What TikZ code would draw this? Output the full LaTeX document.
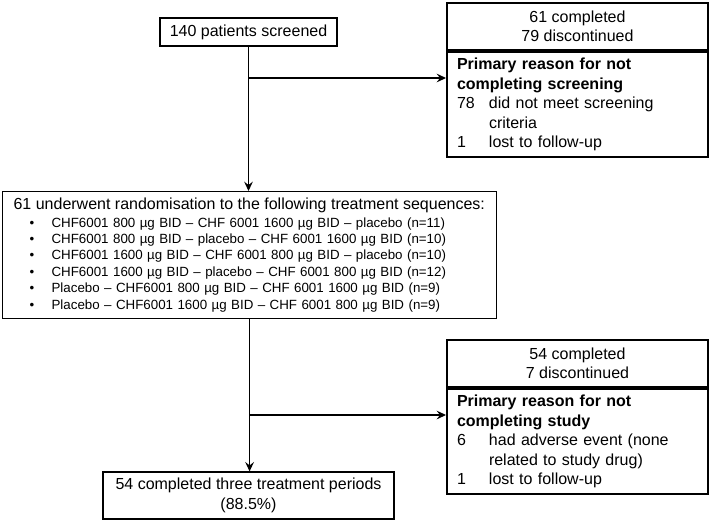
\documentclass[tikz,border=0pt]{standalone}
\usepackage{fontspec}
\setmainfont{Liberation Sans}
\usetikzlibrary{arrows.meta}
\usetikzlibrary{positioning}
\tikzset{box/.style = {draw, line width=0.9pt, align=center, inner sep=0,
                       font=\fontsize{12}{15}\selectfont}}
\tikzset{countbox/.style = {draw, line width=1.5pt, align=center, inner sep=0,
                            minimum width=195.75pt, minimum height=35.25pt,
                            font=\fontsize{12}{14.4}\selectfont}}
\tikzset{reasonbox/.style = {draw, line width=1.5pt, align=left, inner xsep=7.5pt,
                             inner ysep=0, text width=180.75pt, minimum height=79pt,
                             font=\fontsize{12}{14.6}\selectfont}}
\tikzset{flow/.style = {line width=0.9pt,
                        -{Stealth[length=7pt, width=6.5pt, inset=2.5pt]}}}
\newcommand{\reason}[2]{\makebox[24pt][l]{#1}#2}
\newcommand{\seqline}[1]{\hspace*{12pt}\makebox[16.5pt][l]{\textbullet}#1}

\begin{document}
\begin{tikzpicture}[x=0.75pt, y=-0.75pt]
    \useasboundingbox (0, 0) rectangle (709, 522);

    \node [box, minimum width=132.75pt, minimum height=21pt] (screened) at (248.5, 32)
        {140 patients screened};

    \node [countbox, anchor=north west] (scrcount) at (446, 2)
        {61 completed\\79 discontinued};
    \node [reasonbox, anchor=north west] (scrreason) at (scrcount.south west)
        {\textbf{Primary reason for not}\\
         \textbf{completing screening}\\
         \reason{78}{did not meet screening}\\
         \hspace*{24pt}criteria\\
         \reason{1}{lost to follow-up}};

    \node [box, align=left, anchor=north west, inner xsep=8.25pt, inner ysep=0,
           text width=354pt, minimum height=95.25pt,
           font=\fontsize{10}{12.3}\selectfont] (rand) at (2, 191)
        {\mbox{\fontsize{12}{12.3}\selectfont 61 underwent randomisation to the following treatment sequences:}\\[0.6pt]
         \seqline{CHF6001 800 µg BID -- CHF 6001 1600 µg BID -- placebo (n=11)}\\
         \seqline{CHF6001 800 µg BID -- placebo -- CHF 6001 1600 µg BID (n=10)}\\
         \seqline{CHF6001 1600 µg BID -- CHF 6001 800 µg BID -- placebo (n=10)}\\
         \seqline{CHF6001 1600 µg BID -- placebo -- CHF 6001 800 µg BID (n=12)}\\
         \seqline{Placebo -- CHF6001 800 µg BID -- CHF 6001 1600 µg BID (n=9)}\\
         \seqline{Placebo -- CHF6001 1600 µg BID -- CHF 6001 800 µg BID (n=9)}};

    \node [countbox, anchor=north west] (studycount) at (446, 339)
        {54 completed\\7 discontinued};
    \node [reasonbox, anchor=north west] (studyreason) at (studycount.south west)
        {\textbf{Primary reason for not}\\
         \textbf{completing study}\\
         \reason{6}{had adverse event (none}\\
         \hspace*{24pt}related to study drug)\\
         \reason{1}{lost to follow-up}};

    \node [box, minimum width=218.25pt, minimum height=35.25pt] (completed) at (248.5, 495.5)
        {54 completed three treatment periods\\(88.5\%)};

    \coordinate (split1) at (249, 78);
    \coordinate (split2) at (249, 415);

    \draw [flow] (screened.south) -- (screened.south |- rand.north);
    \draw [flow] (split1) -- (split1 -| scrreason.west);
    \draw [flow] (rand.south) -- (rand.south |- completed.north);
    \draw [flow] (split2) -- (split2 -| studyreason.west);
\end{tikzpicture}
\end{document}
